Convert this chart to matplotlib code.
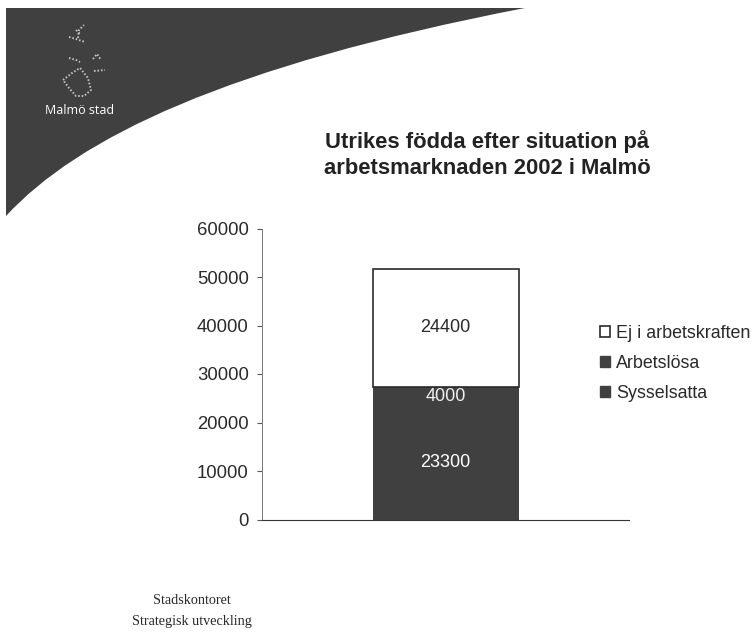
import matplotlib
matplotlib.use("Agg")
import matplotlib.pyplot as plt
from matplotlib.patches import PathPatch, Patch
from matplotlib.path import Path

plt.rcParams['font.family'] = ['Liberation Sans', 'DejaVu Sans']

W, H = 752, 633
DARK = '#404040'
INK = '#2a2a2a'

categories = ['2002']
sysselsatta = [23300]
arbetslosa = [4000]
ej_i_arbetskraften = [24400]
y_ticks = [0, 10000, 20000, 30000, 40000, 50000, 60000]
legend_labels = ['Ej i arbetskraften', 'Arbetslösa', 'Sysselsatta']
title = 'Utrikes födda efter situation på\narbetsmarknaden 2002 i Malmö'

fig = plt.figure(figsize=(W / 100, H / 100), dpi=100, facecolor='white')

# page decoration in pixel coordinates
bg = fig.add_axes([0, 0, 1, 1], zorder=0)
bg.set_xlim(0, W)
bg.set_ylim(H, 0)
bg.axis('off')
swoosh = Path([(6, 8), (525, 8), (225, 66), (78, 138), (6, 216), (6, 8)],
              [Path.MOVETO, Path.LINETO, Path.CURVE4, Path.CURVE4, Path.CURVE4,
               Path.CLOSEPOLY])
bg.add_patch(PathPatch(swoosh, facecolor=DARK, edgecolor='none'))
logo_strokes = [
    [(78, 38), (79, 30), (84, 25)], [(76, 30), (80, 34)],
    [(69, 37), (76, 39), (85, 42)],
    [(69, 58), (76, 60), (80, 62)], [(93, 59), (97, 54), (101, 60)],
    [(94, 71), (105, 70)],
    [(63, 80), (72, 73), (80, 68), (88, 78), (91, 90), (84, 96), (76, 96),
     (69, 88), (63, 80)],
]
for s in logo_strokes:
    bg.plot(*zip(*s), color='#c4c4c4', lw=1.4, ls=(0, (0.8, 1.0)))
bg.text(80, 110.5, 'Malmö stad', color='white', fontsize=9, ha='center',
        va='center', family=['Open Sans', 'DejaVu Sans'])
bg.text(192, 600, 'Stadskontoret', color=INK, fontsize=10.2, ha='center',
        va='center', family=['Liberation Serif'])
bg.text(192, 621, 'Strategisk utveckling', color=INK, fontsize=10.2, ha='center',
        va='center', family=['Liberation Serif'])
bg.text(487, 154.5, title, color='#222222', fontsize=15.8, fontweight='bold',
        ha='center', va='center', linespacing=1.3)

# chart
ax = fig.add_axes([262 / W, 1 - 519.5 / H, 367 / W, 291 / H], zorder=1)
ax.patch.set_alpha(0)
x = range(len(categories))
bw = 146 / 367
ax.bar(x, sysselsatta, bw, color=DARK, label='Sysselsatta')
ax.bar(x, arbetslosa, bw, bottom=sysselsatta, color=DARK, label='Arbetslösa')
b3 = [s + a for s, a in zip(sysselsatta, arbetslosa)]
ax.bar(x, ej_i_arbetskraften, bw, bottom=b3, facecolor='white', edgecolor=INK,
       lw=1.2, label='Ej i arbetskraften')
for i in x:
    ax.text(i, sysselsatta[i] / 2, str(sysselsatta[i]), color='white',
            fontsize=13, ha='center', va='center')
    ax.text(i, sysselsatta[i] + arbetslosa[i] / 2, str(arbetslosa[i]),
            color='#eeeeee', fontsize=13, ha='center', va='center')
    ax.text(i, b3[i] + ej_i_arbetskraften[i] / 2, str(ej_i_arbetskraften[i]),
            color=INK, fontsize=13, ha='center', va='center')
ax.set_xlim(-0.5, 0.5)
ax.set_ylim(0, 60000)
ax.set_yticks(y_ticks)
ax.set_xticks([])
ax.tick_params(axis='y', labelsize=13.3, labelcolor=INK, color='#555555',
               length=3.5, direction='out', pad=6)
for sp in ('top', 'right'):
    ax.spines[sp].set_visible(False)
ax.spines['left'].set_color('#777777')
ax.spines['bottom'].set_color('#333333')
ax.spines['left'].set_linewidth(0.7)

handles = [Patch(facecolor='white', edgecolor=INK, lw=1.2),
           Patch(facecolor=DARK, edgecolor=DARK),
           Patch(facecolor=DARK, edgecolor=DARK)]
fig.legend(handles, legend_labels, loc='upper left',
           bbox_to_anchor=(600 / W, 1 - 325 / H), frameon=False, fontsize=12.9,
           handlelength=0.56, handleheight=0.56, handletextpad=0.33,
           labelspacing=0.73, borderpad=0, borderaxespad=0, labelcolor=INK)

fig.savefig('out.png', dpi=100, facecolor='white')
